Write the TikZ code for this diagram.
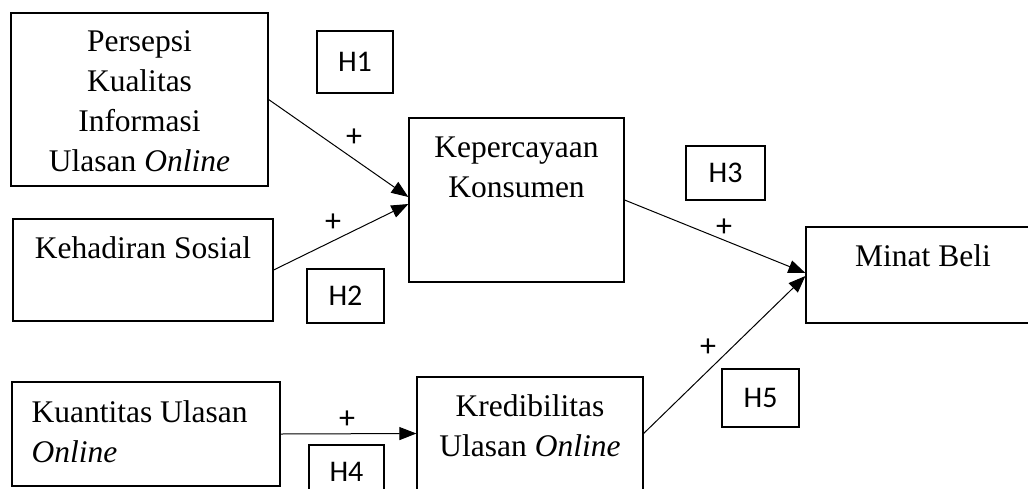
\documentclass[tikz,border=0pt]{standalone}
\usepackage{fontspec}
\setmainfont{Liberation Serif}
\newfontfamily\hfont{Carlito}
\usetikzlibrary{arrows.meta}
\begin{document}
\begin{tikzpicture}[x=1pt,y=-1pt,
  box/.style={draw, line width=1.2pt, inner sep=0pt},
  hbox/.style={draw, line width=1.2pt, inner sep=0pt, font=\hfont\fontsize{30}{36}\selectfont},
  txt/.style={inner sep=0pt, align=center, font=\fontsize{31.5}{40}\selectfont},
  plus/.style={inner sep=0pt, font=\hfont\fontsize{32}{36}\selectfont},
  conn/.style={line width=1pt, -{Triangle[length=17pt,width=13pt]}}]
\clip (0,0) rectangle (1028,488);
% main boxes
\node[box, minimum width=257pt, minimum height=173pt] (pk) at (139.5,99.5) {};
\node[box, minimum width=260pt, minimum height=102pt] (ks) at (143,270) {};
\node[box, minimum width=268pt, minimum height=104pt] (ku) at (146,434) {};
\node[box, minimum width=215pt, minimum height=164pt] (kk) at (516.5,200) {};
\node[box, minimum width=226pt, minimum height=113pt] (kr) at (530,433.5) {};
\node[box, minimum width=234pt, minimum height=96pt] (mb) at (923,275) {};
% texts
\node[txt, anchor=north] (pk-t) at ([yshift=-18.5pt]pk.north) {Persepsi\\Kualitas\\Informasi\\Ulasan \textit{Online}};
\node[txt, anchor=north] (ks-t) at ([yshift=-18.5pt]ks.north) {Kehadiran Sosial};
\node[txt, align=left, anchor=north west] (ku-t) at ([xshift=20pt,yshift=-19.5pt]ku.north west) {Kuantitas Ulasan\\\textit{Online}};
\node[txt, anchor=north] (kk-t) at ([yshift=-19pt]kk.north) {Kepercayaan\\Konsumen};
\node[txt, anchor=north] (kr-t) at ([yshift=-18.5pt]kr.north) {Kredibilitas\\Ulasan \textit{Online}};
\node[txt, anchor=north] (mb-t) at ([yshift=-18.5pt]mb.north) {Minat Beli};
% hypothesis boxes
\node[hbox, minimum width=76pt, minimum height=62pt] (h1) at (355,62) {H1};
\node[hbox, minimum width=77pt, minimum height=54pt] (h2) at (345.5,296) {H2};
\node[hbox, minimum width=79pt, minimum height=54pt] (h3) at (725.5,173) {H3};
\node[hbox, minimum width=75pt, minimum height=54pt] (h4) at (346.5,472) {H4};
\node[hbox, minimum width=77pt, minimum height=58pt] (h5) at (760.5,398) {H5};
% connectors
\draw[conn] (pk.east) -- ([yshift=3pt]kk.west);
\draw[conn] (ks.east) -- ([yshift=-4pt]kk.west);
\draw[conn] (kk.east) -- ([yshift=2pt]mb.west);
\draw[conn] (kr.east) -- ([yshift=-1pt]mb.west);
\draw[conn] (ku.east) -- (kr.west);
% signs
\node[plus] (p1) at (354,138) {+};
\node[plus] (p2) at (333,223) {+};
\node[plus] (p3) at (724,228) {+};
\node[plus] (p4) at (347,420) {+};
\node[plus] (p5) at (708,348) {+};
\end{tikzpicture}
\end{document}
